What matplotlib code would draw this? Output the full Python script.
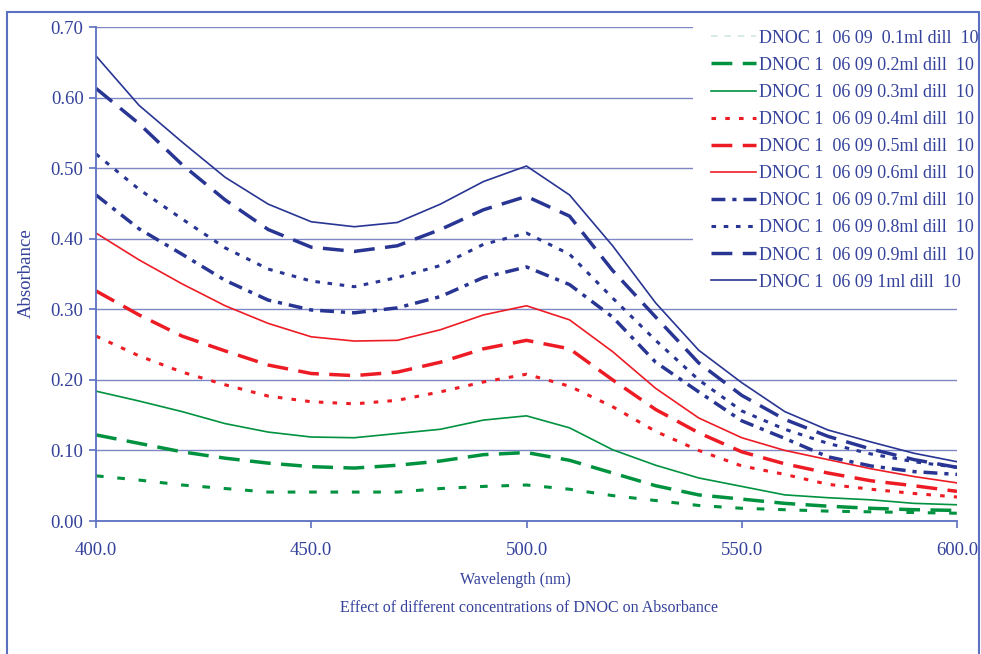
import matplotlib
matplotlib.use("Agg")
import matplotlib.pyplot as plt
from matplotlib.lines import Line2D
from matplotlib.patches import Rectangle

# wavelength grid (nm) and absorbance
wavelength = [400, 410, 420, 430, 440, 450, 460, 470, 480, 490, 500,
              510, 520, 530, 540, 550, 560, 570, 580, 590, 600]

abs_01 = [0.064, 0.058, 0.051, 0.046, 0.041, 0.041, 0.041, 0.041, 0.046, 0.049, 0.051,
          0.045, 0.036, 0.029, 0.022, 0.018, 0.016, 0.014, 0.013, 0.012, 0.011]
abs_02 = [0.122, 0.110, 0.098, 0.089, 0.082, 0.077, 0.075, 0.079, 0.085, 0.094, 0.097,
          0.086, 0.068, 0.050, 0.037, 0.031, 0.025, 0.021, 0.018, 0.016, 0.015]
abs_03 = [0.184, 0.170, 0.155, 0.138, 0.126, 0.119, 0.118, 0.124, 0.130, 0.143, 0.149,
          0.132, 0.101, 0.079, 0.061, 0.049, 0.037, 0.033, 0.030, 0.025, 0.023]
abs_04 = [0.262, 0.234, 0.211, 0.193, 0.177, 0.169, 0.166, 0.171, 0.183, 0.197, 0.208,
          0.191, 0.162, 0.127, 0.100, 0.078, 0.066, 0.052, 0.045, 0.039, 0.034]
abs_05 = [0.326, 0.292, 0.262, 0.241, 0.221, 0.209, 0.206, 0.211, 0.225, 0.244, 0.256,
          0.244, 0.200, 0.158, 0.125, 0.098, 0.081, 0.068, 0.057, 0.050, 0.042]
abs_06 = [0.408, 0.370, 0.336, 0.305, 0.280, 0.261, 0.255, 0.256, 0.271, 0.292, 0.305,
          0.285, 0.240, 0.188, 0.146, 0.118, 0.100, 0.087, 0.074, 0.063, 0.054]
abs_07 = [0.462, 0.414, 0.378, 0.341, 0.313, 0.299, 0.295, 0.302, 0.318, 0.345, 0.360,
          0.335, 0.289, 0.225, 0.183, 0.142, 0.117, 0.091, 0.078, 0.070, 0.066]
abs_08 = [0.520, 0.470, 0.428, 0.387, 0.357, 0.340, 0.332, 0.345, 0.362, 0.392, 0.408,
          0.378, 0.316, 0.256, 0.200, 0.156, 0.130, 0.110, 0.095, 0.084, 0.076]
abs_09 = [0.613, 0.563, 0.505, 0.455, 0.413, 0.388, 0.382, 0.390, 0.413, 0.441, 0.460,
          0.432, 0.355, 0.289, 0.224, 0.178, 0.144, 0.120, 0.102, 0.087, 0.076]
abs_10 = [0.659, 0.589, 0.537, 0.487, 0.449, 0.424, 0.417, 0.423, 0.449, 0.481, 0.503,
          0.462, 0.390, 0.309, 0.242, 0.196, 0.155, 0.129, 0.112, 0.096, 0.084]

labels = ["DNOC 1  06 09  0.1ml dill  10",
          "DNOC 1  06 09 0.2ml dill  10",
          "DNOC 1  06 09 0.3ml dill  10",
          "DNOC 1  06 09 0.4ml dill  10",
          "DNOC 1  06 09 0.5ml dill  10",
          "DNOC 1  06 09 0.6ml dill  10",
          "DNOC 1  06 09 0.7ml dill  10",
          "DNOC 1  06 09 0.8ml dill  10",
          "DNOC 1  06 09 0.9ml dill  10",
          "DNOC 1  06 09 1ml dill  10"]

series = [abs_01, abs_02, abs_03, abs_04, abs_05, abs_06, abs_07, abs_08, abs_09, abs_10]

green = '#00923f'
red = '#ed1c24'
navy = '#283593'
txt = '#34429b'
axis_c = '#5b70c0'
grid_c = '#7f86c4'

# (color, linewidth, dash pattern or None for solid)
styles = [(green, 2.2, (2.5, 4.5)),
          (green, 2.5, (6, 3)),
          (green, 1.2, None),
          (red, 2.2, (1.5, 3)),
          (red, 2.5, (6, 3)),
          (red, 1.2, None),
          (navy, 2.5, (4, 2, 1.2, 2)),
          (navy, 2.2, (1.5, 2.5)),
          (navy, 2.5, (6, 3)),
          (navy, 1.2, None)]

plt.rcParams['font.family'] = ['Liberation Serif', 'DejaVu Serif']

fig = plt.figure(figsize=(9.81, 6.54), dpi=100)
ax = fig.add_axes([96/981, 1-521/654, (957-96)/981, (521-27)/654])

handles = []
for vals, lab, (c, lw, dash) in zip(series, labels, styles):
    if dash is None:
        l, = ax.plot(wavelength, vals, color=c, lw=lw, label=lab)
    else:
        l, = ax.plot(wavelength, vals, color=c, lw=lw, dashes=dash, label=lab)
    handles.append(l)

# legend sample for the 0.1ml series is drawn very pale in the original
handles[0] = Line2D([], [], color='#cfe6de', lw=1.2, dashes=(4, 4))

ax.set_xlim(400, 600)
ax.set_ylim(0, 0.70)
ax.set_xticks([400, 450, 500, 550, 600])
ax.set_xticklabels(["%.1f" % v for v in [400, 450, 500, 550, 600]])
ax.set_yticks([0.0, 0.1, 0.2, 0.3, 0.4, 0.5, 0.6, 0.7])
ax.set_yticklabels(["%.2f" % v for v in [0.0, 0.1, 0.2, 0.3, 0.4, 0.5, 0.6, 0.7]])
ax.yaxis.grid(True, color=grid_c, lw=1)
ax.set_axisbelow(True)

for s in ['top', 'right']:
    ax.spines[s].set_visible(False)
for s in ['left', 'bottom']:
    ax.spines[s].set_color(axis_c)
    ax.spines[s].set_linewidth(1.3)

ax.tick_params(axis='both', colors=axis_c, labelcolor=txt, labelsize=13.5, length=5, width=1.2)
ax.tick_params(axis='x', pad=10)
ax.tick_params(axis='y', pad=4)

ax.set_ylabel("Absorbance", color=txt, fontsize=13.5)
ax.yaxis.set_label_coords(35/981, 1-273/654, transform=fig.transFigure)
fig.text(515/981, 1-580/654, "Wavelength (nm)", color=txt, fontsize=11.5, ha='center', va='center')
fig.text(529/981, 1-608/654, "Effect of different concentrations of DNOC on Absorbance",
         color=txt, fontsize=11.5, ha='center', va='center')

leg = ax.legend(handles=handles, labels=labels, loc='upper left',
                bbox_to_anchor=(693/981, 1-12/654), bbox_transform=fig.transFigure,
                frameon=True, fancybox=False, facecolor='white', edgecolor='none',
                framealpha=1, fontsize=13, handlelength=2.5, handletextpad=0.17,
                labelspacing=0.56, borderpad=0.98, borderaxespad=0)
for t in leg.get_texts():
    t.set_color(txt)

# chart area border
fig.patches.append(Rectangle((7/981, -0.01), (979-7)/981, 1.01-12/654, transform=fig.transFigure,
                             fill=False, edgecolor=axis_c, lw=1.5))

fig.savefig("out.png", dpi=100)
